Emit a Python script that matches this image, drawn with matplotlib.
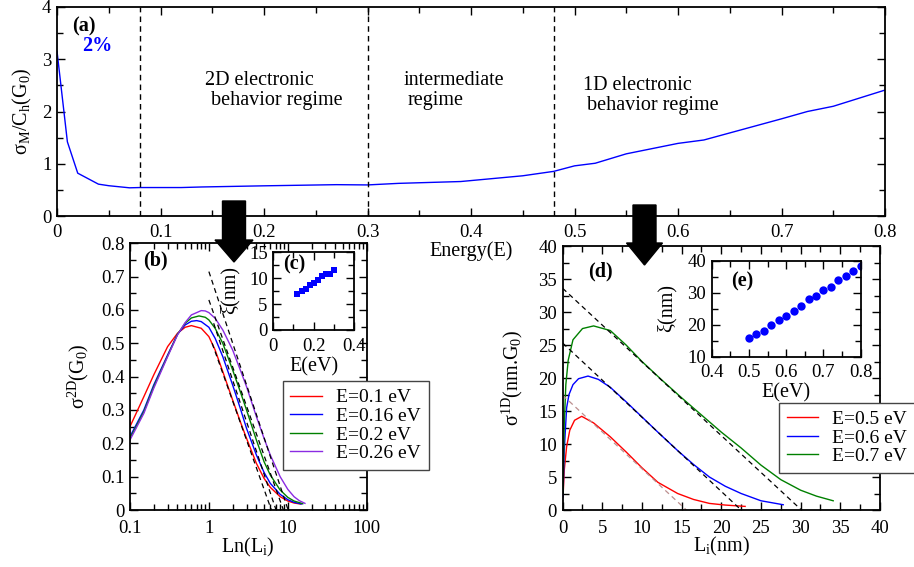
import numpy as np
import matplotlib
matplotlib.use('Agg')
import matplotlib.pyplot as plt
from matplotlib.ticker import MultipleLocator, FuncFormatter, FixedLocator
from matplotlib.patches import FancyArrow

# ---- panel (a): sigma_M / C_h versus energy
energy_a = [0, 0.01, 0.02, 0.04, 0.05, 0.07, 0.08, 0.12, 0.14, 0.2, 0.27, 0.3,
            0.33, 0.39, 0.45, 0.48, 0.5, 0.52, 0.55, 0.6, 0.625, 0.65, 0.7,
            0.725, 0.75, 0.8]
sigma_a = [3.15, 1.42, 0.82, 0.61, 0.58, 0.54, 0.545, 0.545, 0.556, 0.578, 0.60,
           0.595, 0.625, 0.66, 0.77, 0.855, 0.96, 1.01, 1.19, 1.39, 1.455, 1.59,
           1.86, 2.0, 2.1, 2.41]
regime_edges = [0.08, 0.3, 0.48]

# ---- panel (b): sigma_2D versus L_i (log axis)
labels_b = ["E=0.1 eV", "E=0.16 eV", "E=0.2 eV", "E=0.26 eV"]
colors_b = ["red", "blue", "green", "#8a2be2"]
L_b = [
    [0.1, 0.15, 0.2, 0.3, 0.4, 0.5, 0.6, 0.8, 1.0, 1.2, 1.5, 2.0, 2.5, 3.0, 4.0, 5.0, 6.0, 8.0, 10, 12, 14.5],
    [0.1, 0.15, 0.2, 0.3, 0.4, 0.5, 0.6, 0.7, 0.8, 1.0, 1.2, 1.5, 2.0, 2.5, 3.0, 4.0, 5.0, 6.0, 8.0, 10, 12, 15],
    [0.1, 0.15, 0.2, 0.3, 0.4, 0.5, 0.6, 0.75, 0.9, 1.0, 1.2, 1.5, 2.0, 2.5, 3.0, 4.0, 5.0, 6.0, 8.0, 10, 12, 15.5],
    [0.1, 0.15, 0.2, 0.3, 0.4, 0.5, 0.6, 0.8, 0.9, 1.0, 1.2, 1.5, 2.0, 2.5, 3.0, 4.0, 5.0, 6.0, 8.0, 10, 12, 14, 16.5],
]
sig_b = [
    [0.25, 0.34, 0.405, 0.49, 0.53, 0.548, 0.553, 0.545, 0.52, 0.48, 0.415, 0.33, 0.265, 0.215, 0.14, 0.095, 0.068, 0.04, 0.027, 0.021, 0.018],
    [0.22, 0.30, 0.375, 0.465, 0.527, 0.555, 0.566, 0.568, 0.565, 0.548, 0.515, 0.46, 0.375, 0.305, 0.245, 0.165, 0.113, 0.08, 0.047, 0.031, 0.023, 0.018],
    [0.215, 0.295, 0.37, 0.462, 0.527, 0.56, 0.576, 0.582, 0.578, 0.57, 0.545, 0.5, 0.42, 0.355, 0.3, 0.21, 0.145, 0.105, 0.06, 0.038, 0.027, 0.019],
    [0.21, 0.29, 0.365, 0.46, 0.525, 0.562, 0.585, 0.598, 0.597, 0.592, 0.575, 0.54, 0.48, 0.42, 0.37, 0.28, 0.215, 0.165, 0.1, 0.062, 0.04, 0.028, 0.02],
]
tan_b_L = [[1.1, 6.2], [1.15, 7.1], [1.0, 8.8], [1.0, 10.1]]
tan_b_s = [[0.50, 0.0], [0.56, 0.0], [0.63, 0.0], [0.715, 0.0]]

# ---- inset (c): xi versus E
E_c = [0.12, 0.14, 0.16, 0.18, 0.2, 0.22, 0.24, 0.26, 0.28, 0.3]
xi_c = [7.0, 7.5, 8.0, 8.6, 9.0, 9.7, 10.4, 10.75, 10.9, 11.6]

# ---- panel (d): sigma_1D versus L_i
labels_d = ["E=0.5 eV", "E=0.6 eV", "E=0.7 eV"]
colors_d = ["red", "blue", "green"]
L_d = [
    [0.05, 0.2, 0.5, 0.9, 1.5, 2.4, 3.9, 6, 8, 10, 12, 14.5, 16.5, 18.5, 20.5, 23],
    [0.05, 0.2, 0.5, 0.8, 1.3, 2.0, 3.2, 4.5, 6, 8, 10, 12, 14.5, 16.5, 18.5, 20.5, 22.5, 25, 27.8],
    [0.05, 0.2, 0.4, 0.7, 1.3, 2.5, 3.9, 6, 8, 10, 12.5, 15, 17.5, 20, 22.5, 25, 27.5, 30, 32, 34.1],
]
sig_d = [
    [2.0, 6.0, 9.6, 12.1, 13.6, 14.2, 13.2, 11.1, 8.8, 6.4, 4.2, 2.5, 1.6, 1.0, 0.75, 0.55],
    [2.0, 9.0, 15.5, 17.5, 19.0, 19.9, 20.3, 19.8, 18.6, 16.4, 14.1, 11.8, 9.0, 6.9, 5.0, 3.6, 2.5, 1.4, 0.8],
    [2.5, 13.0, 19.0, 22.7, 25.8, 27.5, 27.9, 27.2, 25.0, 22.5, 19.7, 17.0, 14.4, 11.8, 9.4, 6.8, 4.6, 3.0, 2.1, 1.4],
]
tan_d_L = [[0, 15.6], [0, 22.5], [0, 30.1]]
tan_d_s = [[17.4, 0.0], [25.3, 0.0], [33.6, 0.0]]
tan_d_colors = ["rosybrown", "black", "black"]

# ---- inset (e): xi versus E
E_e = [0.5, 0.52, 0.54, 0.56, 0.58, 0.6, 0.62, 0.64, 0.66, 0.68, 0.7, 0.72,
       0.74, 0.76, 0.78, 0.8]
xi_e = [16.0, 17.0, 18.1, 19.8, 21.5, 22.7, 24.3, 25.9, 27.9, 29.1, 31.0, 31.9,
        33.9, 35.3, 36.8, 38.3]


plt.rcParams['font.family'] = 'serif'
plt.rcParams['font.serif'] = ['Liberation Serif', 'DejaVu Serif']
plt.rcParams['mathtext.fontset'] = 'custom'
plt.rcParams['mathtext.rm'] = 'Liberation Serif'
plt.rcParams['mathtext.it'] = 'Liberation Serif:italic'
plt.rcParams['mathtext.bf'] = 'Liberation Serif:bold'
plt.rcParams['font.size'] = 13.5

TICK = 13.5
LAB = 14.5
fmt = FuncFormatter(lambda v, p: f'{v:g}')


def style(ax, xpad=5.5):
    ax.tick_params(which='both', direction='in', top=True, right=True,
                   labelsize=TICK, width=1.0, pad=4)
    ax.tick_params(axis='x', which='both', pad=xpad)
    ax.tick_params(which='major', length=6)
    ax.tick_params(which='minor', length=4)
    for sp in ax.spines.values():
        sp.set_linewidth(1.3)


def put_labels(ax, xl, yl, xpos, ypos):
    ax.set_xlabel(xl, fontsize=LAB)
    ax.set_ylabel(yl, fontsize=LAB)
    ax.xaxis.set_label_coords(*xpos)
    ax.yaxis.set_label_coords(*ypos)
    ax.xaxis.label.set_va('center')
    ax.yaxis.label.set_va('center')


fig = plt.figure(figsize=(9.14, 5.67), dpi=100)

# (a)
ax_a = fig.add_axes([0.0624, 0.619, 0.9059, 0.3687])
ax_a.plot(energy_a, sigma_a, color='blue', lw=1.0)
for xv in regime_edges:
    ax_a.axvline(xv, color='black', ls=(0, (4, 3)), lw=1.0)
ax_a.set_xlim(0, 0.8)
ax_a.set_ylim(0, 4)
ax_a.xaxis.set_major_locator(MultipleLocator(0.1))
ax_a.xaxis.set_minor_locator(MultipleLocator(0.05))
ax_a.yaxis.set_major_locator(MultipleLocator(1))
ax_a.yaxis.set_minor_locator(MultipleLocator(0.5))
ax_a.xaxis.set_major_formatter(fmt)
style(ax_a)
put_labels(ax_a, 'Energy(E)', 'σ$_\\mathrm{M}$/C$_\\mathrm{h}$(G$_0$)',
           (0.5, -0.17), (-0.042, 0.5))
ax_a.text(0.0145, 3.62, '(a)', fontsize=LAB, fontweight='bold', va='center')
ax_a.text(0.024, 3.25, '2%', fontsize=LAB, fontweight='bold', color='blue', va='center')
ax_a.text(0.143, 2.6, '2D electronic', fontsize=LAB, va='center')
ax_a.text(0.149, 2.22, 'behavior regime', fontsize=LAB, va='center')
ax_a.text(0.335, 2.6, 'intermediate', fontsize=LAB, va='center')
ax_a.text(0.339, 2.22, 'regime', fontsize=LAB, va='center')
ax_a.text(0.508, 2.5, '1D electronic', fontsize=LAB, va='center')
ax_a.text(0.512, 2.12, 'behavior regime', fontsize=LAB, va='center')

# (b)
ax_b = fig.add_axes([0.1422, 0.1005, 0.259, 0.4705])
for L, s, c, lab in zip(L_b, sig_b, colors_b, labels_b):
    ax_b.plot(L, s, color=c, lw=1.0, label=lab)
for L, s in zip(tan_b_L, tan_b_s):
    ax_b.plot(L, s, color='black', ls=(0, (4, 3)), lw=0.9)
ax_b.set_xscale('log')
ax_b.set_xlim(0.1, 100)
ax_b.set_ylim(0, 0.8)
ax_b.xaxis.set_major_locator(FixedLocator([0.1, 1, 10, 100]))
ax_b.xaxis.set_major_formatter(fmt)
ax_b.yaxis.set_major_locator(MultipleLocator(0.1))
ax_b.yaxis.set_minor_locator(MultipleLocator(0.05))
ax_b.yaxis.set_major_formatter(fmt)
style(ax_b, xpad=7)
put_labels(ax_b, 'Ln(L$_\\mathrm{i}$)', 'σ$^\\mathrm{2D}$(G$_0$)',
           (0.5, -0.142), (-0.22, 0.5))
ax_b.text(0.054, 0.937, '(b)', transform=ax_b.transAxes, fontsize=LAB,
          fontweight='bold', va='center')
ax_b.legend(loc='upper left', bbox_to_anchor=(0.3093, 0.328),
            bbox_transform=fig.transFigure, fontsize=14, frameon=True,
            fancybox=False, framealpha=1, edgecolor='#444444',
            handlelength=1.6, handletextpad=0.75, labelspacing=0.05,
            borderpad=0.4, borderaxespad=0)

# (c) inset
ax_c = fig.add_axes([0.299, 0.418, 0.0883, 0.137])
ax_c.plot(E_c, xi_c, 's', color='blue', ms=4.5, mew=0)
ax_c.set_xlim(0, 0.4)
ax_c.set_ylim(0, 15)
ax_c.xaxis.set_major_locator(MultipleLocator(0.2))
ax_c.xaxis.set_minor_locator(MultipleLocator(0.1))
ax_c.yaxis.set_major_locator(MultipleLocator(5))
ax_c.yaxis.set_minor_locator(MultipleLocator(2.5))
ax_c.xaxis.set_major_formatter(fmt)
style(ax_c)
put_labels(ax_c, 'E(eV)', 'ξ(nm)', (0.5, -0.47), (-0.537, 0.51))
ax_c.text(0.117, 0.846, '(c)', transform=ax_c.transAxes, fontsize=LAB,
          fontweight='bold', va='center')

# (d)
ax_d = fig.add_axes([0.6156, 0.1005, 0.3472, 0.4655])
for L, s, c, lab in zip(L_d, sig_d, colors_d, labels_d):
    ax_d.plot(L, s, color=c, lw=1.0, label=lab)
for L, s, c in zip(tan_d_L, tan_d_s, tan_d_colors):
    ax_d.plot(L, s, color=c, ls=(0, (4, 3)), lw=0.9)
ax_d.set_xlim(0, 40)
ax_d.set_ylim(0, 40)
ax_d.xaxis.set_major_locator(MultipleLocator(5))
ax_d.xaxis.set_minor_locator(MultipleLocator(2.5))
ax_d.yaxis.set_major_locator(MultipleLocator(5))
ax_d.yaxis.set_minor_locator(MultipleLocator(2.5))
style(ax_d, xpad=7)
put_labels(ax_d, 'L$_\\mathrm{i}$(nm)', 'σ$^\\mathrm{1D}$(nm.G$_0$)',
           (0.5, -0.139), (-0.157, 0.5))
ax_d.text(0.081, 0.9026, '(d)', transform=ax_d.transAxes, fontsize=LAB,
          fontweight='bold', va='center')
ax_d.legend(loc='upper left', bbox_to_anchor=(0.8523, 0.2898),
            bbox_transform=fig.transFigure, fontsize=14, frameon=True,
            fancybox=False, framealpha=1, edgecolor='#444444',
            handlelength=1.6, handletextpad=0.75, labelspacing=0.05,
            borderpad=0.4, borderaxespad=0)

# (e) inset
ax_e = fig.add_axes([0.7787, 0.3709, 0.163, 0.1693])
ax_e.plot(E_e, xi_e, 'o', color='blue', ms=6, mew=0)
ax_e.set_xlim(0.4, 0.8)
ax_e.set_ylim(10, 40)
ax_e.xaxis.set_major_locator(MultipleLocator(0.1))
ax_e.xaxis.set_minor_locator(MultipleLocator(0.05))
ax_e.yaxis.set_major_locator(MultipleLocator(10))
ax_e.yaxis.set_minor_locator(MultipleLocator(5))
ax_e.xaxis.set_major_formatter(fmt)
style(ax_e)
put_labels(ax_e, 'E(eV)', 'ξ(nm)', (0.5, -0.375), (-0.302, 0.507))
ax_e.text(0.127, 0.78, '(e)', transform=ax_e.transAxes, fontsize=LAB,
          fontweight='bold', va='center')

# the two big arrows pointing from (a) into (b) and (d)
for x0, y0, dy, hw in [(2.34, 3.66, -0.61, 0.38), (6.445, 3.62, -0.60, 0.36)]:
    fig.patches.append(FancyArrow(x0, y0, 0, dy, width=0.23, head_width=hw,
                                  head_length=0.22, length_includes_head=True,
                                  color='black', transform=fig.dpi_scale_trans,
                                  zorder=10))

fig.savefig('out.png', dpi=100)
